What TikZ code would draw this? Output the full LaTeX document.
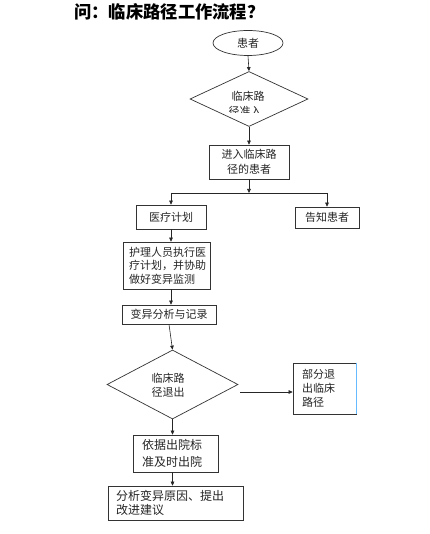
\documentclass[tikz,border=0pt]{standalone}
\usepackage{fontspec}
\newfontfamily\cjk{Noto Sans CJK SC}
\usetikzlibrary{shapes.geometric,arrows.meta}
\begin{document}
\begin{tikzpicture}[x=1pt,y=-1pt,
  txt/.style={font=\cjk\fontsize{11}{14}\selectfont, text=black!85},
  box/.style={draw=black!80, line width=0.7pt, txt, inner sep=0pt, align=center},
  lbox/.style={box, align=left},
  arr/.style={-{Triangle[length=4pt,width=3.6pt]}, line width=0.6pt, draw=black!85},
  ln/.style={line width=0.6pt, draw=black!85}]
\useasboundingbox (0,0) rectangle (429,534);
\fill[white] (0,0) rectangle (429,534);
% title
\node[anchor=west, font=\cjk\bfseries\fontsize{17.3}{19}\selectfont, inner sep=0pt] (title) at (74,12) {问：临床路径工作流程？};
% patient
\node[draw=black!80, line width=0.7pt, ellipse, minimum width=70pt, minimum height=25pt, inner sep=0pt, txt] (e1) at (248,43) {患者};
% diamond 1
\node[draw=black!80, line width=0.7pt, diamond, minimum width=118pt, minimum height=55pt, inner sep=0pt] (d1) at (249,99) {};
\node[txt, inner sep=0pt] (d1t) at (248,96) {临床路};
\begin{scope}
\clip (200,100) rectangle (300,112.5);
\node[txt, inner sep=0pt] (d1c) at (245,111) {径准入};
\end{scope}
% box 1
\node[box, minimum width=80pt, minimum height=34pt, font=\cjk\fontsize{11}{15}\selectfont] (b1) at (249,162) {进入临床路\\径的患者};
\coordinate (br) at (249,193);
\coordinate (brl) at (171,193);
\coordinate (brr) at (327,193);
% box 2, 3
\node[box, minimum width=70pt, minimum height=24pt] (b2) at (171,217) {医疗计划};
\node[box, minimum width=64pt, minimum height=21pt] (b3) at (327,217.5) {告知患者};
% box 4
\node[lbox, minimum width=87pt, minimum height=47pt, text width=75pt, font=\cjk\fontsize{11}{13.5}\selectfont] (b4) at (166.5,265.5) {护理人员执行医\\疗计划，并协助\\做好变异监测};
% box 5
\node[box, minimum width=94pt, minimum height=19pt] (b5) at (169,314.5) {变异分析与记录};
% diamond 2
\node[draw=black!80, line width=0.7pt, diamond, minimum width=131pt, minimum height=69pt, inner sep=0pt] (d2) at (172.5,384.5) {};
\node[txt, inner sep=0pt, align=center] (d2t) at (168,385) {临床路\\径退出};
% box 6
\node[lbox, minimum width=63pt, minimum height=51pt, text width=45pt, font=\cjk\fontsize{11}{14}\selectfont] (b6) at (324.5,388.5) {部分退\\出临床\\路径};
\draw[draw=blue!45!cyan!60, line width=0.8pt] (b6.north east) -- (b6.south east);
\coordinate (d2r) at (240,392);
% box 7
\node[lbox, minimum width=85pt, minimum height=37pt, text width=67pt, font=\cjk\fontsize{12}{16.5}\selectfont] (b7) at (175.5,453.5) {依据出院标\\准及时出院};
% box 8
\node[lbox, minimum width=135pt, minimum height=34pt, text width=119pt, font=\cjk\fontsize{12}{13.5}\selectfont] (b8) at (175.5,503) {分析变异原因、提出\\改进建议};
% connectors
\draw[arr] (e1.south) -- (d1.north);
\draw[arr] (d1.south) -- (b1.north);
\draw[arr] (b1.south) -- (br);
\draw[ln] (brl) -- (brr);
\draw[arr] (brl) -- (b2.north);
\draw[arr] (brr) -- (b3.north);
\draw[arr] (b2.south) -- (b2.south |- b4.north);
\draw[arr] (b4.south -| b2.south) -- (b2.south |- b5.north);
\draw[arr] (b5.south) -- (d2.north);
\draw[arr] (d2r) -- (d2r -| b6.west);
\draw[arr] (d2.south) -- (d2.south |- b7.north);
\draw[arr] (b7.south -| d2.south) -- (d2.south |- b8.north);
\end{tikzpicture}
\end{document}
